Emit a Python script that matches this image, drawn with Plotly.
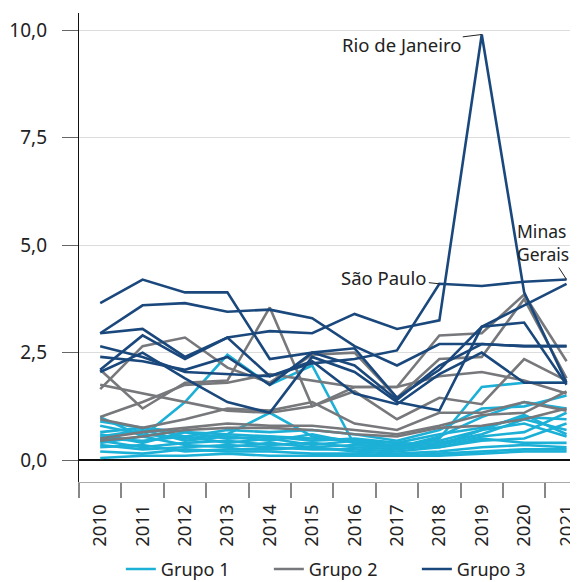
import plotly.graph_objects as go

years = ["2010", "2011", "2012", "2013", "2014", "2015", "2016", "2017", "2018", "2019", "2020", "2021"]

# Grupo 1 (light blue)
g1_a = [1.0, 0.55, 1.35, 2.45, 1.75, 2.2, 0.35, 0.3, 0.5, 1.7, 1.8, 1.8]
g1_b = [0.8, 0.6, 0.5, 0.6, 1.1, 0.55, 0.45, 0.3, 0.55, 1.0, 1.35, 1.2]
g1_c = [0.65, 0.75, 0.55, 0.7, 0.65, 0.7, 0.6, 0.45, 0.7, 1.2, 1.25, 1.5]
g1_d = [0.6, 0.4, 0.65, 0.5, 0.55, 0.45, 0.5, 0.4, 0.6, 0.75, 1.0, 0.95]
g1_e = [0.55, 0.7, 0.45, 0.55, 0.45, 0.6, 0.4, 0.35, 0.45, 0.7, 0.85, 0.55]
g1_f = [0.5, 0.45, 0.55, 0.4, 0.5, 0.35, 0.45, 0.3, 0.4, 0.6, 0.95, 0.7]
g1_g = [0.45, 0.3, 0.4, 0.45, 0.35, 0.4, 0.3, 0.25, 0.35, 0.55, 0.65, 1.1]
g1_h = [0.4, 0.55, 0.35, 0.3, 0.4, 0.3, 0.35, 0.3, 0.3, 0.5, 0.4, 0.4]
g1_i = [0.35, 0.25, 0.3, 0.35, 0.3, 0.25, 0.25, 0.2, 0.3, 0.45, 0.5, 0.85]
g1_j = [0.3, 0.35, 0.2, 0.25, 0.25, 0.3, 0.2, 0.15, 0.2, 0.3, 0.35, 0.3]
g1_k = [0.2, 0.15, 0.25, 0.2, 0.2, 0.15, 0.15, 0.1, 0.15, 0.2, 0.25, 0.25]
g1_l = [0.05, 0.1, 0.1, 0.15, 0.1, 0.1, 0.1, 0.1, 0.1, 0.15, 0.2, 0.2]
g1_m = [0.9, 0.75, 0.65, 0.6, 0.55, 0.5, 0.45, 0.4, 0.35, 0.7, 1.05, 0.6]
grupo1 = [g1_a, g1_b, g1_c, g1_d, g1_e, g1_f, g1_g, g1_h, g1_i, g1_j, g1_k, g1_l, g1_m]

# Grupo 2 (gray)
g2_a = [2.1, 1.2, 1.8, 1.85, 3.55, 1.25, 1.7, 1.7, 2.9, 2.95, 3.85, 2.3]
g2_b = [1.65, 2.65, 2.85, 2.15, 1.8, 2.45, 2.5, 1.45, 2.35, 2.4, 3.75, 1.9]
g2_c = [1.0, 1.35, 1.75, 1.8, 2.0, 1.85, 1.7, 1.7, 1.95, 2.05, 1.85, 1.55]
g2_d = [1.75, 1.55, 1.35, 1.15, 1.1, 1.25, 1.6, 0.95, 1.45, 1.3, 2.35, 1.85]
g2_e = [0.95, 0.75, 0.95, 1.2, 1.15, 1.35, 0.85, 0.7, 1.1, 1.1, 1.35, 1.15]
g2_f = [0.5, 0.65, 0.75, 0.85, 0.8, 0.8, 0.7, 0.6, 0.8, 1.05, 1.1, 1.6]
g2_g = [0.45, 0.55, 0.7, 0.75, 0.75, 0.7, 0.6, 0.55, 0.75, 0.8, 0.95, 1.2]
grupo2 = [g2_a, g2_b, g2_c, g2_d, g2_e, g2_f, g2_g]

# Grupo 3 (dark blue)
rio_de_janeiro = [2.95, 3.05, 2.4, 2.85, 3.0, 2.95, 3.4, 3.05, 3.25, 9.9, 3.9, 1.8]
sao_paulo = [2.65, 2.4, 2.05, 2.0, 1.95, 2.25, 2.35, 2.55, 4.1, 4.05, 4.15, 4.2]
minas_gerais = [2.05, 2.5, 1.9, 1.35, 1.1, 2.4, 2.05, 1.35, 1.15, 3.1, 3.6, 4.1]
g3_d = [3.65, 4.2, 3.9, 3.9, 2.35, 2.5, 2.2, 1.4, 2.2, 2.7, 2.65, 2.65]
g3_e = [2.95, 3.6, 3.65, 3.45, 3.5, 3.3, 2.65, 2.2, 2.7, 2.7, 2.65, 2.65]
g3_f = [2.4, 2.3, 2.1, 2.4, 1.75, 2.5, 2.6, 1.45, 2.1, 3.1, 3.2, 1.75]
g3_g = [2.1, 2.9, 2.35, 2.85, 1.95, 2.3, 1.55, 1.3, 2.0, 2.5, 1.8, 1.8]
grupo3 = [rio_de_janeiro, sao_paulo, minas_gerais, g3_d, g3_e, g3_f, g3_g]

groups = [("Grupo 1", grupo1, "#1cb0d7"), ("Grupo 2", grupo2, "#77787b"), ("Grupo 3", grupo3, "#1a487c")]

fig = go.Figure()
for name, series, color in groups:
    for i, vals in enumerate(series):
        fig.add_trace(go.Scatter(
            x=years, y=vals, mode="lines", name=name, legendgroup=name,
            showlegend=(i == 0), line=dict(color=color, width=2.6),
            hoverinfo="skip"))

font_family = "Noto Sans, Open Sans, sans-serif"
idx = {y: i for i, y in enumerate(years)}
annotations = [
    dict(x=idx["2019"], y=rio_de_janeiro[idx["2019"]], text="Rio de Janeiro", ax=-80, ay=10,
         showarrow=True, arrowhead=0, arrowwidth=1, arrowcolor="#222", standoff=0,
         font=dict(size=18.5, color="#222", family=font_family)),
    dict(x=idx["2018"], y=sao_paulo[idx["2018"]], text="São Paulo", ax=-55, ay=-6,
         showarrow=True, arrowhead=0, arrowwidth=1, arrowcolor="#222", standoff=0,
         font=dict(size=18.5, color="#222", family=font_family)),
    dict(x=idx["2021"], y=sao_paulo[idx["2021"]], text="Minas<br>Gerais", ax=-24, ay=-37,
         showarrow=True, arrowhead=0, arrowwidth=1, arrowcolor="#222", standoff=0, align="left",
         font=dict(size=17.5, color="#222", family=font_family)),
]
for a in annotations:
    a["xref"] = "x"
    a["yref"] = "y"

fig.update_layout(
    width=570, height=574,
    margin=dict(l=71, r=0, t=5, b=100, autoexpand=False),
    paper_bgcolor="white", plot_bgcolor="white",
    separators=",.",
    font=dict(family=font_family, size=18, color="#222"),
    annotations=annotations,
    showlegend=True,
    legend=dict(orientation="h", xref="container", yref="container",
                x=0.198, xanchor="left", y=0.022, yanchor="middle",
                entrywidth=103, font=dict(size=18, color="#222"),
                traceorder="normal"),
    xaxis=dict(type="category", range=[-0.5, 11.27], tickson="boundaries",
               ticks="outside", ticklen=15, tickcolor="#888", tickwidth=1.5,
               showline=True, linecolor="#aaa", linewidth=1, automargin=False,
               ticklabelstandoff=14,
               showgrid=False, tickangle=-90, tickfont=dict(size=18.5, color="#222")),
    yaxis=dict(range=[-0.51, 10.4], tickvals=[0, 2.5, 5, 7.5, 10], tickformat=".1f",
               ticks="outside", ticklen=16, tickcolor="#666", tickwidth=1.2,
               showline=True, linecolor="#111", linewidth=1.3, automargin=False,
               ticklabelstandoff=11,
               showgrid=True, gridcolor="#dcdcdc", gridwidth=1,
               zeroline=True, zerolinecolor="#111", zerolinewidth=1.5,
               tickfont=dict(size=19, color="#222")),
)

fig.write_html("out.html")
